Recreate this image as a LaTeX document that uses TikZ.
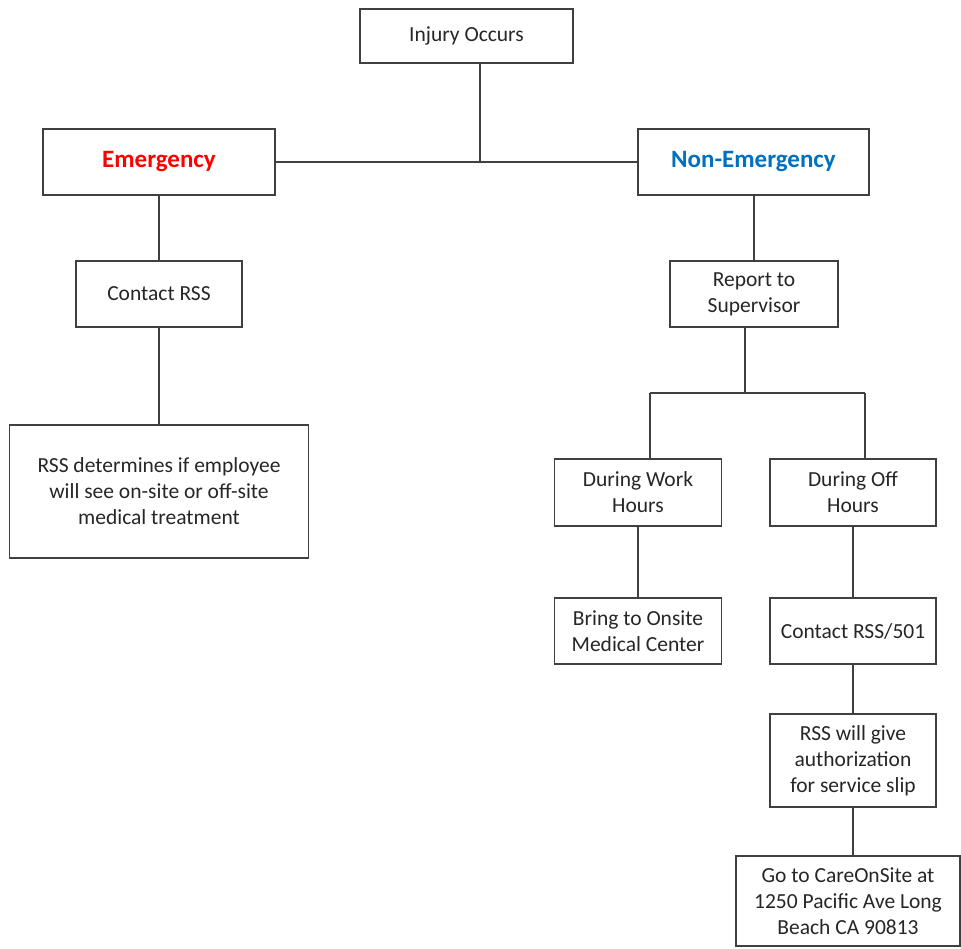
\documentclass[tikz,border=0pt]{standalone}
\usepackage{fontspec}
\setmainfont{Carlito}
\definecolor{emred}{HTML}{FF0000}
\definecolor{nonblue}{HTML}{0070C0}
\definecolor{edgegray}{HTML}{404040}
\begin{document}
\begin{tikzpicture}[x=1pt,y=-1pt,
  box/.style={draw=edgegray,line width=1.4pt,align=center,inner sep=0pt,
    font=\fontsize{21.5}{26}\selectfont,text=black!85},
  head/.style={box,font=\fontsize{25}{26}\selectfont\bfseries},
  link/.style={draw=edgegray,line width=1.4pt}]
\useasboundingbox (0,0) rectangle (961,948);
\node[box,minimum width=213pt,minimum height=54pt] (inj) at (466.5,36) {Injury Occurs};
\node[head,text=emred,minimum width=232pt,minimum height=66pt] (em) at (159,162) {Emergency};
\node[head,text=nonblue,minimum width=231pt,minimum height=66pt] (nem) at (753.5,162) {Non-Emergency};
\node[box,minimum width=166pt,minimum height=66pt] (crss) at (159,294) {Contact RSS};
\node[box,minimum width=299pt,minimum height=133pt] (det) at (159,491.5) {RSS determines if employee\\will see on-site or off-site\\medical treatment};
\node[box,minimum width=168pt,minimum height=66pt] (rep) at (754,294) {Report to\\Supervisor};
\node[box,minimum width=167pt,minimum height=67pt] (work) at (638,492.5) {During Work\\Hours};
\node[box,minimum width=166pt,minimum height=67pt] (off) at (853,492.5) {During Off\\Hours};
\node[box,minimum width=167pt,minimum height=66pt] (bring) at (638,631) {Bring to Onsite\\Medical Center};
\node[box,minimum width=166pt,minimum height=66pt] (c501) at (853,631) {Contact RSS/501};
\node[box,minimum width=166pt,minimum height=93pt] (auth) at (853,760.5) {RSS will give\\authorization\\for service slip};
\node[box,minimum width=224pt,minimum height=90pt] (go) at (848,901) {Go to CareOnSite at\\1250 Pacific Ave Long\\Beach CA 90813};
% connectors
\coordinate (j1) at (480,162);
\draw[link] (inj.south -| j1) -- (j1);
\draw[link] (em.east) -- (nem.west);
\draw[link] (em.south) -- (crss.north);
\draw[link] (crss.south) -- (det.north);
\draw[link] (nem.south -| rep.north) -- (rep.north);
\coordinate (j2) at (745,393);
\coordinate (jl) at (650,393);
\coordinate (jr) at (865,393);
\draw[link] (rep.south -| j2) -- (j2);
\draw[link] (jl) -- (jr);
\draw[link] (jl) -- (work.north -| jl);
\draw[link] (jr) -- (off.north -| jr);
\draw[link] (work.south) -- (bring.north);
\draw[link] (off.south) -- (c501.north);
\draw[link] (c501.south) -- (auth.north);
\draw[link] (auth.south) -- (go.north -| auth.south);
\end{tikzpicture}
\end{document}
